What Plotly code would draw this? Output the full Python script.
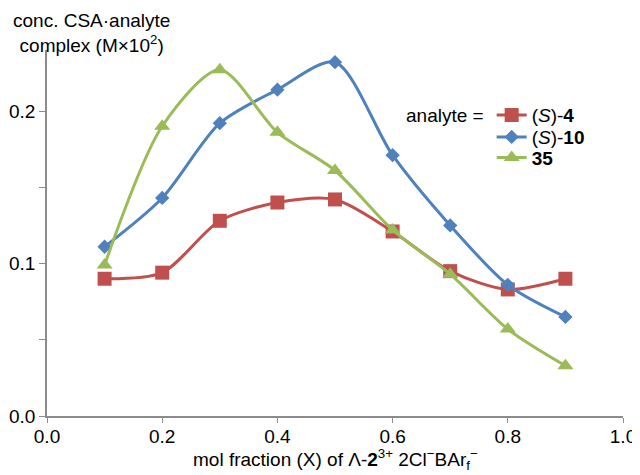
import plotly.graph_objects as go

x_vals = [0.1, 0.2, 0.3, 0.4, 0.5, 0.6, 0.7, 0.8, 0.9]
s4 = [0.090, 0.094, 0.128, 0.140, 0.142, 0.121, 0.095, 0.083, 0.090]
s10 = [0.111, 0.143, 0.192, 0.214, 0.232, 0.171, 0.125, 0.086, 0.065]
c35 = [0.099, 0.190, 0.227, 0.186, 0.161, 0.122, 0.093, 0.057, 0.033]

series_names = ["(<i>S</i>)-<b>4</b>", "(<i>S</i>)-<b>10</b>", "<b>35</b>"]
colors = ["#C0504D", "#4F81BD", "#9BBB59"]
symbols = ["square", "diamond", "triangle-up"]
sizes = [14, 11, 14]
legend_ids = ["legend", "legend2", "legend3"]
legend_y = [0.822, 0.762, 0.706]

font_family = "Liberation Sans, Arial, sans-serif"
axis_color = "#8C8C8C"
FS = 19

fig = go.Figure()
for name, ys, c, s, sz, lid in zip(series_names, [s4, s10, c35], colors, symbols, sizes, legend_ids):
    fig.add_trace(go.Scatter(
        x=x_vals, y=ys, name=name, mode="lines+markers",
        line=dict(color=c, width=3, shape="spline", smoothing=0.8),
        marker=dict(color=c, symbol=s, size=sz),
        legend=lid,
    ))

legend_common = dict(
    xanchor="left", yanchor="middle", bgcolor="rgba(0,0,0,0)",
    font=dict(size=FS), itemwidth=30, borderwidth=0,
)
layout_legends = {}
for lid, ly in zip(legend_ids, legend_y):
    layout_legends[lid] = dict(x=0.772, y=ly, **legend_common)

# page body has an 8px margin; figure sized so it fits the 640x475 window
fig.update_layout(
    width=632, height=467,
    margin=dict(l=39, r=17, t=42, b=59),
    plot_bgcolor="white", paper_bgcolor="white",
    font=dict(family=font_family, size=FS, color="#000000"),
    showlegend=True,
    xaxis=dict(
        range=[0, 1.0], dtick=0.2, tickformat=".1f",
        showgrid=False, zeroline=False, automargin=False,
        showline=True, linecolor=axis_color, linewidth=1.5,
        ticks="outside", tickcolor=axis_color, ticklen=5,
        ticklabelstandoff=-3, ticklabeloverflow="allow",
        tickfont=dict(size=FS),
    ),
    yaxis=dict(
        range=[0, 0.24], dtick=0.1, tickformat=".1f",
        showgrid=False, zeroline=False, automargin=False,
        showline=True, linecolor=axis_color, linewidth=1.5,
        ticks="outside", tickcolor=axis_color, ticklen=6,
        ticklabeloverflow="allow",
        tickfont=dict(size=FS),
        minor=dict(dtick=0.05, ticks="outside", ticklen=6, tickcolor=axis_color, showgrid=False),
    ),
    annotations=[
        dict(
            text="conc. CSA·analyte<br>complex (M×10<sup>2</sup>)",
            xref="paper", yref="paper", x=0.078, y=1.115,
            xanchor="center", yanchor="top", showarrow=False, align="center",
            font=dict(size=FS),
        ),
        dict(
            text="analyte =",
            xref="paper", yref="paper", x=0.762, y=0.822,
            xanchor="right", yanchor="middle", showarrow=False,
            font=dict(size=FS),
        ),
        dict(
            text="mol fraction (X) of Λ-<b>2</b><sup>3+</sup> 2Cl<sup>−</sup>BAr<sub>f</sub><sup>−</sup>",
            xref="paper", yref="paper", x=0.5, y=-0.118,
            xanchor="center", yanchor="middle", showarrow=False,
            font=dict(size=FS),
        ),
    ],
    **layout_legends,
)

fig.write_html("out.html")
